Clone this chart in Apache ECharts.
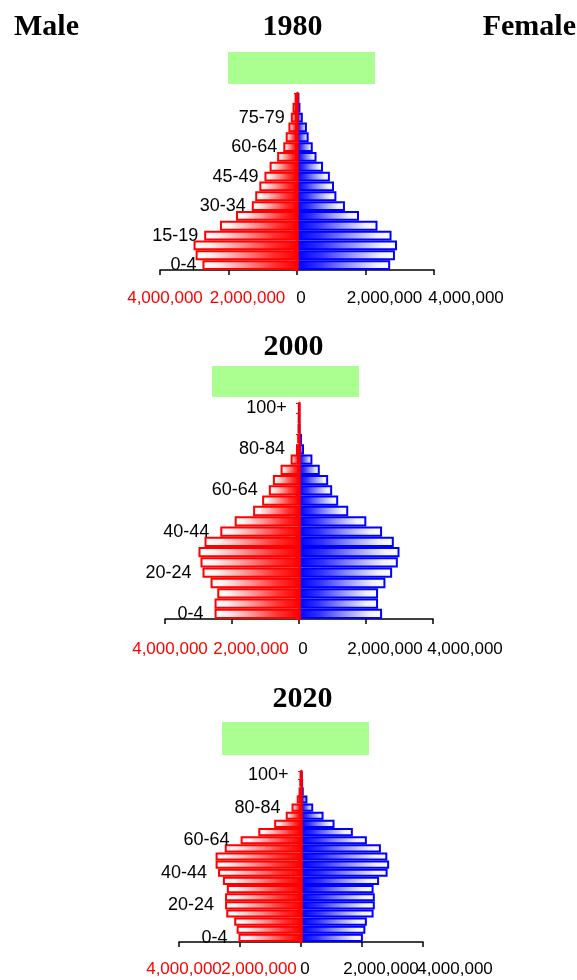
<!DOCTYPE html>
<html><head><meta charset="utf-8">
<script src="https://cdn.jsdelivr.net/npm/echarts@6/dist/echarts.min.js"></script>
<style>html,body{margin:0;padding:0;background:#fff}#c{width:577px;height:980px}</style>
</head><body><div id="c"></div>
<script>
// ---- data ----
const ageGroups1980 = ['0-4','5-9','10-14','15-19','20-24','25-29','30-34','35-39','40-44','45-49','50-54','55-59','60-64','65-69','70-74','75-79','80-84','85+'];
const ageGroups = ['0-4','5-9','10-14','15-19','20-24','25-29','30-34','35-39','40-44','45-49','50-54','55-59','60-64','65-69','70-74','75-79','80-84','85-89','90-94','95-99','100+'];

const male1980   = [2760000,2960000,3020000,2710000,2250000,1780000,1320000,1220000,1100000,950000,800000,580000,400000,330000,250000,180000,130000,70000];
const female1980 = [2720000,2860000,2920000,2760000,2350000,1810000,1400000,1150000,1080000,960000,760000,570000,460000,340000,290000,170000,100000,70000];

const male2000   = [2520000,2520000,2440000,2640000,2880000,2940000,3000000,2820000,2350000,1920000,1370000,1100000,900000,780000,550000,250000,90000,50000,30000,20000,10000];
const female2000 = [2480000,2360000,2360000,2580000,2780000,2950000,3000000,2830000,2480000,2010000,1470000,1170000,990000,870000,620000,400000,150000,90000,30000,10000,5000];

const male2020   = [2050000,2110000,2190000,2450000,2490000,2490000,2430000,2560000,2720000,2800000,2800000,2500000,1980000,1400000,880000,500000,310000,140000,80000,50000,30000];
const female2020 = [2030000,2110000,2160000,2380000,2420000,2420000,2380000,2560000,2840000,2890000,2830000,2620000,2160000,1700000,1100000,740000,400000,210000,90000,70000,50000];

const years = ['1980','2000','2020'];
const xTicks = [-4000000,-2000000,0,2000000,4000000];
const innerTicks = [-2000000, 2000000];   // labelled on a second, line-less axis so neighbours do not collide

// ---- layout ----
const panels = [
  {year: years[0], cats: ageGroups1980, male: male1980, female: female1980, step: 3, dist: 6,
   grid: {left:160, top:93, width:274, height:177}, titleX: 292.5, titleY: 27, box: [228, 52, 147, 32], margin: 20},
  {year: years[1], cats: ageGroups, male: male2000, female: female2000, step: 4, dist: 11,
   grid: {left:165, top:403, width:268, height:216}, titleX: 293.5, titleY: 347, box: [212, 366, 147, 31], margin: 22},
  {year: years[2], cats: ageGroups, male: male2020, female: female2020, step: 4, dist: 11,
   grid: {left:179, top:771, width:244, height:171}, titleX: 302.5, titleY: 699, box: [222, 722, 147, 33], margin: 19}
];

const sans = "'Liberation Sans Narrow','Arial Narrow','Liberation Sans',Arial,sans-serif";
const serif = "'Liberation Serif','Times New Roman',serif";

const maleFill = {type:'linear', x:0, y:0, x2:1, y2:0, colorStops:[
  {offset:0, color:'#ffffff'},{offset:0.15, color:'#fff0f0'},{offset:0.45, color:'#ff9494'},{offset:0.75, color:'#ff3434'},{offset:1, color:'#ff0000'}]};
const femaleFill = {type:'linear', x:0, y:0, x2:1, y2:0, colorStops:[
  {offset:0, color:'#0000ff'},{offset:0.25, color:'#3434ff'},{offset:0.55, color:'#9494ff'},{offset:0.85, color:'#f0f0ff'},{offset:1, color:'#ffffff'}]};

const fmt = v => Math.abs(v).toLocaleString('en-US');
const isInner = v => innerTicks.indexOf(v) >= 0;
const tickStyle = (color, pad) => ({color, fontFamily: sans, fontSize: 17, padding:[0,0,0,pad]});
const tickRich = {
  nMin: tickStyle('#ff0000', 10), nIn: tickStyle('#ff0000', 38),
  zero: tickStyle('#000000', 8), pIn: tickStyle('#000000', 38), pMax: tickStyle('#000000', 64)
};
const richKey = v => (v === xTicks[0] ? 'nMin' : v < 0 ? 'nIn' : v === 0 ? 'zero' : v === xTicks[xTicks.length-1] ? 'pMax' : 'pIn');
const tickText = v => '{' + richKey(v) + '|' + fmt(v) + '}';

const grid = [], xAxis = [], yAxis = [], series = [], graphic = [];

panels.forEach((p, i) => {
  grid.push(Object.assign({containLabel:false}, p.grid));
  // main axis (bars), labels at -4M, 0, 4M
  xAxis.push({
    type:'value', gridIndex:i, position:'bottom', min:xTicks[0], max:xTicks[xTicks.length-1], interval:xTicks[1]-xTicks[0],
    splitLine:{show:false},
    axisLine:{show:true, onZero:false, lineStyle:{color:'#000', width:1.5}},
    axisTick:{show:true, length:5, lineStyle:{color:'#000', width:1.5}},
    axisLabel:{margin: p.margin, showMinLabel: true, showMaxLabel: true, hideOverlap: false, rich: tickRich,
               formatter: v => (isInner(v) ? '' : tickText(v))}
  });
  yAxis.push({
    type:'category', gridIndex:i, data:p.cats, z:10,
    axisLine:{show:true, onZero:true, lineStyle:{color:'#ff0000', width:2.5}},
    axisTick:{show:true, length:3, lineStyle:{color:'#ff0000', width:1}},
    axisLabel:{show:false}, splitLine:{show:false}
  });
});
// companion axes carrying the ±2,000,000 labels
panels.forEach((p, i) => {
  xAxis.push({
    type:'value', gridIndex:i, position:'bottom', min:xTicks[0], max:xTicks[xTicks.length-1], interval:xTicks[1]-xTicks[0],
    splitLine:{show:false}, axisLine:{show:false, onZero:false}, axisTick:{show:false},
    axisLabel:{margin: p.margin, showMinLabel: true, showMaxLabel: true, hideOverlap: false, rich: tickRich,
               formatter: v => (isInner(v) ? tickText(v) : '')}
  });
});

panels.forEach((p, i) => {
  series.push({
    name:'Male', type:'bar', xAxisIndex:i, yAxisIndex:i,
    data: p.male.map(v => -v), barGap:'-100%', barCategoryGap:'0%',
    itemStyle:{color:maleFill, borderColor:'#ff0000', borderWidth:2},
    label:{show:true, position:'left', distance:p.dist,
      formatter: q => (q.dataIndex % p.step === 0 ? p.cats[q.dataIndex] : ''),
      fontFamily: sans, fontSize: 18, color:'#000'},
    labelLayout:{hideOverlap:false},
    animation:false
  });
  series.push({
    name:'Female', type:'bar', xAxisIndex:i, yAxisIndex:i,
    data: p.female, barGap:'-100%', barCategoryGap:'0%',
    itemStyle:{color:femaleFill, borderColor:'#0000ff', borderWidth:2},
    animation:false
  });
  graphic.push({type:'rect', shape:{x:p.box[0], y:p.box[1], width:p.box[2], height:p.box[3]}, style:{fill:'#aaff90'}, silent:true});
  graphic.push({type:'text', x:p.titleX, y:p.titleY, style:{text:p.year, font:'bold 30px ' + serif, fill:'#000', textAlign:'center', textVerticalAlign:'middle'}});
});

graphic.push({type:'text', x:14, y:27, style:{text:'Male', font:'bold 30px ' + serif, fill:'#000', textAlign:'left', textVerticalAlign:'middle'}});
graphic.push({type:'text', x:576, y:27, style:{text:'Female', font:'bold 30px ' + serif, fill:'#000', textAlign:'right', textVerticalAlign:'middle'}});

const chart = echarts.init(document.getElementById('c'), null, {renderer:'canvas'});
chart.setOption({animation:false, backgroundColor:'#fff', grid, xAxis, yAxis, series, graphic});
</script>
</body></html>
